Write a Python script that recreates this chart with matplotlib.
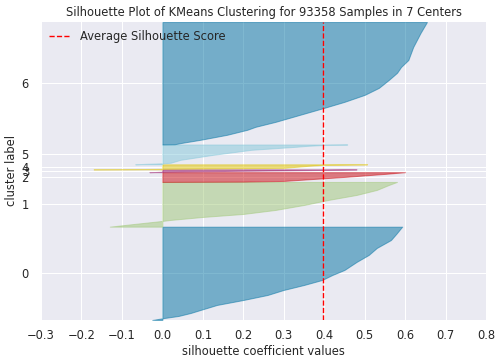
import numpy as np
import matplotlib
matplotlib.use("Agg")
import matplotlib.pyplot as plt

# ---------------- data ----------------
n_samples = 93358
cluster_labels = ["0", "1", "2", "3", "4", "5", "6"]
cluster_sizes = [29250, 14020, 3040, 880, 1570, 6210, 38388]
avg_score = 0.398

# silhouette profiles: fraction of cluster (bottom->top) and sorted silhouette value
c0_frac = [0.0, 0.011, 0.018, 0.043, 0.075, 0.107, 0.161, 0.214, 0.268, 0.322, 0.375, 0.429,
           0.482, 0.536, 0.622, 0.697, 0.772, 0.857, 0.932, 0.986, 1.0]
c0_vals = [-0.025, -0.01, 0.0, 0.04, 0.07, 0.094, 0.135, 0.20, 0.26, 0.30, 0.35, 0.395,
           0.42, 0.45, 0.48, 0.51, 0.53, 0.565, 0.58, 0.59, 0.593]

c1_frac = [0.0, 0.06, 0.128, 0.15, 0.217, 0.284, 0.374, 0.485, 0.597, 0.709, 0.821, 0.933, 1.0]
c1_vals = [-0.13, -0.07, 0.0, 0.02, 0.10, 0.20, 0.28, 0.35, 0.41, 0.48, 0.53, 0.56, 0.58]

c2_frac = [0.0, 0.03, 0.10, 0.515, 0.825, 1.0]
c2_vals = [0.0, 0.20, 0.30, 0.45, 0.55, 0.60]

c3_frac = [0.0, 0.15, 0.5, 0.8, 1.0]
c3_vals = [-0.032, 0.0, 0.20, 0.40, 0.48]

c4_frac = [0.0, 0.06, 0.1, 0.3, 0.7, 0.9, 1.0]
c4_vals = [-0.17, -0.05, 0.0, 0.30, 0.36, 0.40, 0.506]

c5_frac = [0.0, 0.025, 0.05, 0.076, 0.227, 0.48, 0.732, 0.884, 0.934, 0.975, 1.0]
c5_vals = [-0.067, -0.04, 0.0, 0.02, 0.045, 0.126, 0.22, 0.33, 0.36, 0.40, 0.457]

c6_frac = [0.0, 0.0016, 0.014, 0.038, 0.079, 0.120, 0.144, 0.185, 0.242, 0.299, 0.348,
           0.405, 0.462, 0.528, 0.585, 0.633, 0.690, 0.796, 0.910, 1.0]
c6_vals = [0.0, 0.03, 0.05, 0.094, 0.16, 0.21, 0.23, 0.28, 0.34, 0.40, 0.45,
           0.50, 0.535, 0.56, 0.58, 0.59, 0.608, 0.62, 0.638, 0.654]

profiles_frac = [c0_frac, c1_frac, c2_frac, c3_frac, c4_frac, c5_frac, c6_frac]
profiles_vals = [c0_vals, c1_vals, c2_vals, c3_vals, c4_vals, c5_vals, c6_vals]

x_ticks = [-0.3, -0.2, -0.1, 0.0, 0.1, 0.2, 0.3, 0.4, 0.5, 0.6, 0.7, 0.8]

colors = ["#0072A2", "#A0C878", "#CC0A10", "#9B1B6B", "#E0C400", "#84C8DA", "#0072A2"]

# ---------------- style ----------------
FS = 11.5
plt.rcParams.update({
    "font.family": ["DejaVu Sans"],
    "font.size": FS,
    "axes.facecolor": "#EAEAF2",
    "axes.edgecolor": "white",
    "axes.grid": True,
    "grid.color": "white",
    "grid.linewidth": 1.0,
    "axes.axisbelow": True,
    "text.color": "#262626",
    "axes.labelcolor": "#262626",
    "xtick.color": "#262626",
    "ytick.color": "#262626",
})

fig = plt.figure(figsize=(495 / 72, 364 / 72), dpi=72)
ax = fig.add_axes([41 / 495, 44 / 364, 445 / 495, 298 / 364])
for s in ax.spines.values():
    s.set_visible(False)

y_lower = 10
tick_pos = []
for size, fr, vals, col in zip(cluster_sizes, profiles_frac, profiles_vals, colors):
    y = y_lower + np.array(fr) * size
    ax.fill_betweenx(y, 0, vals, facecolor=col, edgecolor=col, alpha=0.5)
    tick_pos.append(y_lower + 0.5 * size)
    y_lower = y_lower + size + 10

ax.axvline(avg_score, color="red", linestyle="--", linewidth=1.4, zorder=3,
           label="Average Silhouette Score")

ax.set_xlim(-0.3, 0.8)
ax.set_ylim(0, n_samples + (len(cluster_sizes) + 1) * 10)
ax.set_xticks(x_ticks)
ax.set_yticks(tick_pos)
ax.set_yticklabels(cluster_labels)
ax.tick_params(axis="x", length=0, pad=9, labelsize=FS)
ax.tick_params(axis="y", length=0, pad=12, labelsize=FS)

ax.set_title("Silhouette Plot of KMeans Clustering for 93358 Samples in 7 Centers",
             fontsize=FS, pad=6)
ax.set_xlabel("silhouette coefficient values", labelpad=3, fontsize=FS)
ax.set_ylabel("cluster label", labelpad=4, fontsize=FS)
ax.legend(loc="upper left", frameon=False, fontsize=FS, borderaxespad=0.3,
          handlelength=1.85)

fig.savefig("out.png", dpi=72)
